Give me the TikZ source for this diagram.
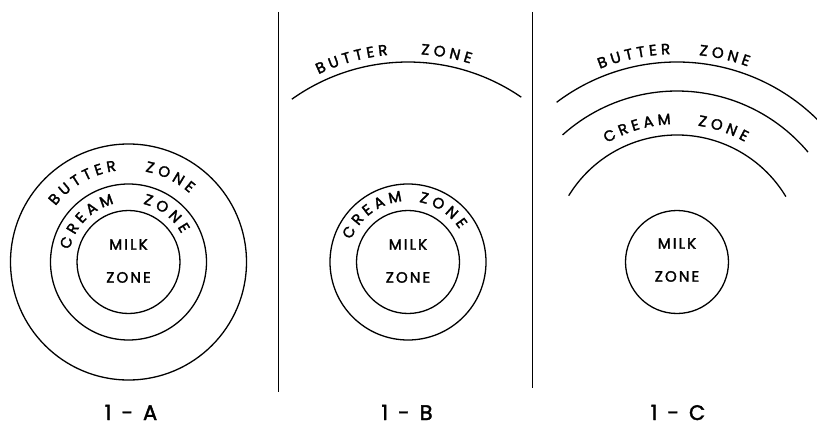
\documentclass[tikz,border=0pt]{standalone}
\usepackage{fontspec}
\usetikzlibrary{decorations.text}
\newfontfamily\zonefont[LetterSpace=14,FakeBold=2]{Poppins}
\newfontfamily\curvefont[WordSpace=0.55,FakeBold=2]{Poppins}
\newfontfamily\capfont[FakeBold=2]{Poppins}

\tikzset{
  zone/.style={line width=1.3pt},
  divider/.style={line width=1pt},
  curvetext/.style={decorate, decoration={text along path, text align=center,
      text={|\curvefont\fontsize{15}{15}\selectfont|#1}}},
  milk/.style={font=\zonefont\fontsize{15}{33}\selectfont, align=center},
  caption/.style={font=\capfont\fontsize{21}{21}\selectfont, inner sep=0pt, anchor=base}
}

\begin{document}
\begin{tikzpicture}[x=1pt,y=1pt]
    \useasboundingbox (0,0) rectangle (817,424);
    \coordinate (cA) at (128.5,162);
    \coordinate (cB) at (408,162);
    \coordinate (cC) at (677,162);

    % Panel 1-A: all zones concentric
    \draw[zone] (cA) circle (118);
    \draw[zone] (cA) circle (78);
    \draw[zone] (cA) circle (51.5);
    \path[curvetext={B U T T E R}] ([shift={(160:92)}]cA) arc[start angle=160, end angle=80, radius=92];
    \path[curvetext={Z O N E}] ([shift={(104:92)}]cA) arc[start angle=104, end angle=24, radius=92];
    \path[curvetext={C R E A M}] ([shift={(180:60)}]cA) arc[start angle=180, end angle=92, radius=60];
    \path[curvetext={Z O N E}] ([shift={(96:60)}]cA) arc[start angle=96, end angle=8, radius=60];
    \node[milk] (milkA) at (128.5,163) {MILK\\ZONE};

    % Panel 1-B: butter zone lifted off
    \draw[zone] ([shift={(125.5:200)}]cB) arc[start angle=125.5, end angle=55.5, radius=200];
    \path[curvetext={B U T T E R}] ([shift={(127:208)}]cB) arc[start angle=127, end angle=84, radius=208];
    \path[curvetext={Z O N E}] ([shift={(101:208)}]cB) arc[start angle=101, end angle=58, radius=208];
    \draw[zone] (cB) circle (78);
    \draw[zone] (cB) circle (51.5);
    \path[curvetext={C R E A M}] ([shift={(171:61)}]cB) arc[start angle=171, end angle=83, radius=61];
    \path[curvetext={Z O N E}] ([shift={(100:61)}]cB) arc[start angle=100, end angle=12, radius=61];
    \node[milk] (milkB) at (408,163) {MILK\\ZONE};

    % Panel 1-C: butter and cream zones lifted off
    \draw[zone] ([shift={(127:200)}]cC) arc[start angle=127, end angle=44, radius=200];
    \draw[zone] ([shift={(132:171)}]cC) arc[start angle=132, end angle=40, radius=171];
    \draw[zone] ([shift={(148.5:127)}]cC) arc[start angle=148.5, end angle=31, radius=127];
    \path[curvetext={B U T T E R}] ([shift={(123.8:208)}]cC) arc[start angle=123.8, end angle=79.8, radius=208];
    \path[curvetext={Z O N E}] ([shift={(99:208)}]cC) arc[start angle=99, end angle=55, radius=208];
    \path[curvetext={C R E A M}] ([shift={(139.5:138)}]cC) arc[start angle=139.5, end angle=73.5, radius=138];
    \path[curvetext={Z O N E}] ([shift={(103.9:138)}]cC) arc[start angle=103.9, end angle=37.9, radius=138];
    \draw[zone] (cC) circle (51.5);
    \node[milk] (milkC) at (677,164) {MILK\\ZONE};

    % Dividers
    \draw[divider] (278,412) -- (278,32);
    \draw[divider] (532,412) -- (532,36);

    % Captions
    \node[caption] (capA) at (131,4) {1\hspace{10pt}-\hspace{10pt}A};
    \node[caption] (capB) at (407,4) {1\hspace{10pt}-\hspace{10pt}B};
    \node[caption] (capC) at (678,4) {1\hspace{10pt}-\hspace{10pt}C};
\end{tikzpicture}
\end{document}
